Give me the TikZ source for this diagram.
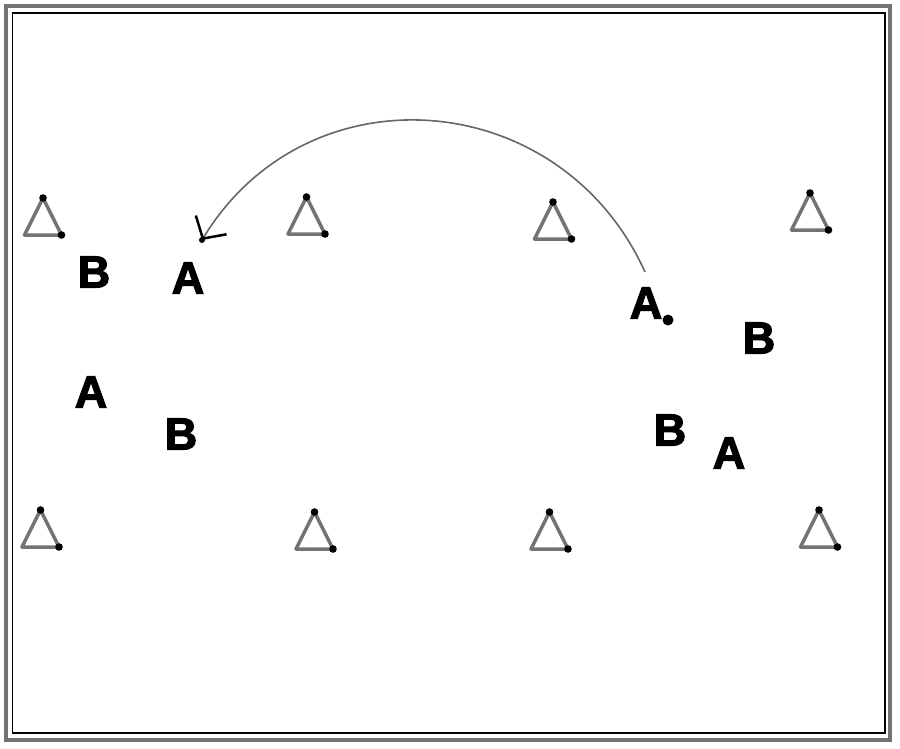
\documentclass[tikz,border=0pt]{standalone}
\usepackage{fontspec}
\setmainfont{Liberation Sans}
\newfontfamily\playerfont[BoldFeatures={FakeBold=2.5}]{Liberation Sans}
\usetikzlibrary{arrows.meta}
\begin{document}
\begin{tikzpicture}[x=1pt,y=-1pt,
  conestyle/.style={draw=black!55, line width=3.5pt, line join=round},
  player/.style={font=\playerfont\fontsize{45}{45}\selectfont\bfseries, inner sep=0pt},
  conedot/.style={fill=black},
  frameout/.style={draw=black!55, line width=4pt},
  framein/.style={draw=black, line width=1.2pt},
  passline/.style={draw=black!60, line width=1.6pt, -{Straight Barb[length=16pt,width=36pt,line width=2.5pt,black]}}]
\useasboundingbox (0,0) rectangle (900,748);
\path[frameout] (6,6) rectangle (890,739.5);
\path[framein] (12.7,13) rectangle (885,733);
\foreach \n/\x/\y in {c1/43/217, c2/306.5/216, c3/553/221, c4/810/212, c5/40.5/529, c6/314.5/531, c7/549.5/531, c8/819/529}{
  \coordinate (\n) at (\x,\y);
  \path[conestyle] ([shift={(0,-19)}]\n) -- ([shift={(-18.5,18)}]\n) -- ([shift={(18.5,18)}]\n) -- cycle;
  \fill[conedot] ([shift={(0,-19)}]\n) circle (3.8pt);
  \fill[conedot] ([shift={(18.5,18)}]\n) circle (3.8pt);
}
\node[player] (B1) at (94,272) {B};
\node[player] (A1) at (188,278) {A};
\node[player] (A2) at (91,392) {A};
\node[player] (B2) at (181,434) {B};
\node[player] (A3) at (646,303) {A};
\node[player] (B3) at (759,338) {B};
\node[player] (B4) at (670,430) {B};
\node[player] (A4) at (729,453) {A};
\node[circle, fill=black, inner sep=0pt, minimum size=11pt] (ball) at (668,320) {};
\coordinate (start) at (645,272);
\coordinate (tip) at (202,240);
\draw[passline] (start) .. controls (561,86) and (308,66) .. (tip);
\fill[black] (tip) circle (3pt);
\end{tikzpicture}
\end{document}
